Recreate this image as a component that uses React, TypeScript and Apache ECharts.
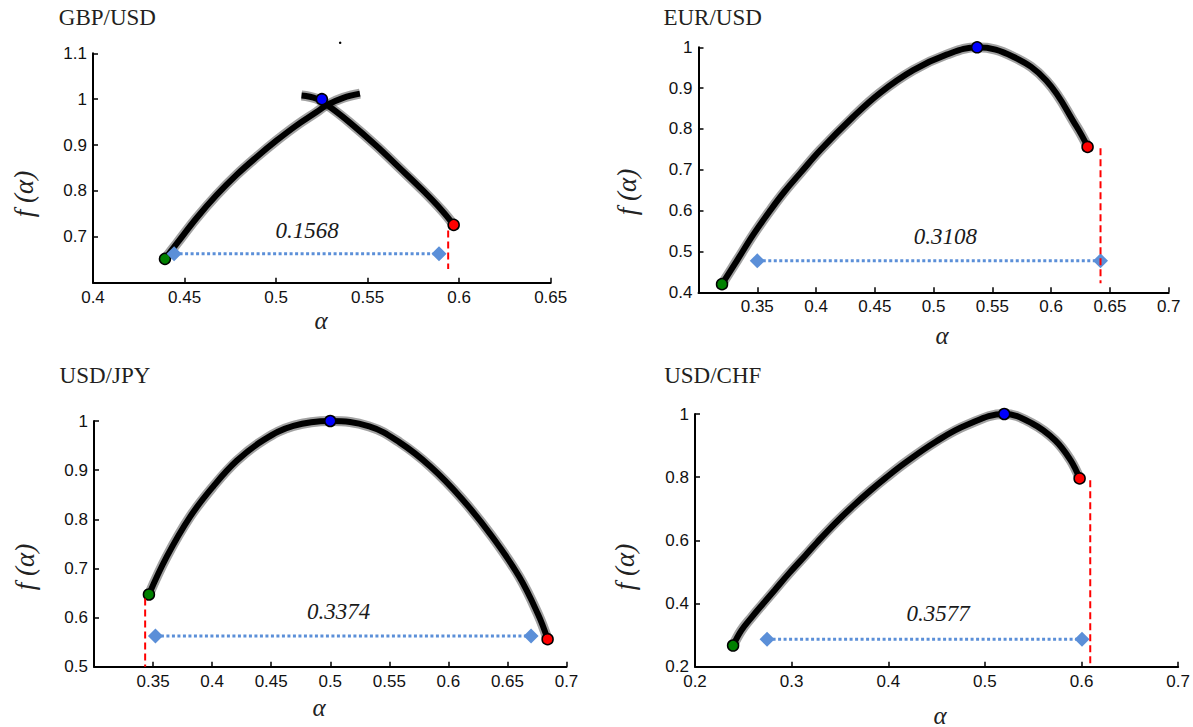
import React, { useEffect, useRef } from "react";
import * as echarts from "echarts";

type Pt = [number, number];

const panelTitles = ["GBP/USD", "EUR/USD", "USD/JPY", "USD/CHF"];
const widthTexts = ["0.1568", "0.3108", "0.3374", "0.3577"];

// x axis: [min, max, step]; y axis: [min, max, step]
const xTickRanges: number[][] = [
  [0.4, 0.65, 0.05],
  [0.3, 0.7, 0.05],
  [0.3, 0.7, 0.05],
  [0.2, 0.7, 0.1],
];
const yTickRanges: number[][] = [
  [0.6, 1.1, 0.1],
  [0.4, 1.0, 0.1],
  [0.5, 1.0, 0.1],
  [0.2, 1.0, 0.2],
];
const showXMinLabel = [true, false, false, true];
const showYMinLabel = [false, true, true, true];

// ---- GBP/USD ----
const gbpRising: Pt[] = [
  [0.4393, 0.652], [0.4457, 0.685], [0.4566, 0.741], [0.4675, 0.791],
  [0.4784, 0.835], [0.4894, 0.874], [0.5003, 0.91], [0.5112, 0.943],
  [0.5221, 0.972], [0.5276, 0.987], [0.5367, 1.003], [0.5458, 1.012],
];
const gbpFalling: Pt[] = [
  [0.5139, 1.008], [0.5221, 1.001], [0.5294, 0.983], [0.5403, 0.949],
  [0.5549, 0.898], [0.5667, 0.853], [0.5802, 0.801], [0.5907, 0.757],
  [0.597, 0.726],
];
const gbpGreen: Pt[] = [[0.4393, 0.652]];
const gbpRed: Pt[] = [[0.597, 0.726]];
const gbpBlue: Pt[] = [[0.525, 1.0]];
const gbpSpan: Pt[] = [[0.4443, 0.663], [0.589, 0.663]];
const gbpDash: Pt[] = [[0.594, 0.714], [0.594, 0.63]];
const gbpLabelAt: Pt[] = [[0.517, 0.714]];
const gbpStray: Pt[] = [[0.535, 1.123]];

// ---- EUR/USD ----
const eurCurve: Pt[] = [
  [0.32, 0.42], [0.333, 0.479], [0.347, 0.543], [0.3614, 0.602],
  [0.3727, 0.645], [0.3869, 0.693], [0.4039, 0.749], [0.431, 0.828],
  [0.4543, 0.888], [0.4827, 0.944], [0.511, 0.982], [0.537, 1.0],
  [0.5677, 0.977], [0.596, 0.918], [0.6216, 0.806], [0.631, 0.757],
];
const eurGreen: Pt[] = [[0.32, 0.42]];
const eurRed: Pt[] = [[0.631, 0.756]];
const eurBlue: Pt[] = [[0.537, 1.0]];
const eurSpan: Pt[] = [[0.35, 0.477], [0.642, 0.477]];
const eurDash: Pt[] = [[0.642, 0.753], [0.642, 0.422]];
const eurLabelAt: Pt[] = [[0.51, 0.537]];

// ---- USD/JPY ----
const jpyCurve: Pt[] = [
  [0.3465, 0.647], [0.3616, 0.724], [0.3813, 0.805], [0.401, 0.867],
  [0.4208, 0.919], [0.4434, 0.961], [0.4688, 0.99], [0.5, 1.0],
  [0.533, 0.989], [0.559, 0.956], [0.585, 0.907], [0.611, 0.843],
  [0.637, 0.765], [0.66, 0.683], [0.676, 0.606], [0.684, 0.556],
];
const jpyGreen: Pt[] = [[0.3465, 0.647]];
const jpyRed: Pt[] = [[0.684, 0.556]];
const jpyBlue: Pt[] = [[0.5, 1.0]];
const jpySpan: Pt[] = [[0.352, 0.5625], [0.67, 0.5625]];
const jpyDash: Pt[] = [[0.3433, 0.639], [0.3433, 0.5]];
const jpyLabelAt: Pt[] = [[0.507, 0.612]];

// ---- USD/CHF ----
const chfCurve: Pt[] = [
  [0.2394, 0.267], [0.248, 0.315], [0.2588, 0.357], [0.2706, 0.4],
  [0.2826, 0.443], [0.2977, 0.497], [0.3144, 0.553], [0.3267, 0.595],
  [0.346, 0.657], [0.364, 0.71], [0.382, 0.759], [0.397, 0.797],
  [0.4176, 0.846], [0.4495, 0.913], [0.481, 0.965], [0.52, 1.0],
  [0.549, 0.97], [0.5726, 0.917], [0.5886, 0.854], [0.598, 0.796],
];
const chfGreen: Pt[] = [[0.2394, 0.267]];
const chfRed: Pt[] = [[0.598, 0.796]];
const chfBlue: Pt[] = [[0.52, 1.0]];
const chfSpan: Pt[] = [[0.2746, 0.287], [0.6005, 0.287]];
const chfDash: Pt[] = [[0.609, 0.79], [0.609, 0.2]];
const chfLabelAt: Pt[] = [[0.4515, 0.369]];

const SERIF = '"Liberation Serif", "Times New Roman", serif';
const SANS = '"Liberation Sans", Arial, sans-serif';

const panels = [
  { curves: [gbpRising, gbpFalling], green: gbpGreen, red: gbpRed, blue: gbpBlue, span: gbpSpan, dash: gbpDash, labelAt: gbpLabelAt },
  { curves: [eurCurve], green: eurGreen, red: eurRed, blue: eurBlue, span: eurSpan, dash: eurDash, labelAt: eurLabelAt },
  { curves: [jpyCurve], green: jpyGreen, red: jpyRed, blue: jpyBlue, span: jpySpan, dash: jpyDash, labelAt: jpyLabelAt },
  { curves: [chfCurve], green: chfGreen, red: chfRed, blue: chfBlue, span: chfSpan, dash: chfDash, labelAt: chfLabelAt },
];

// layout (pixels)
const gridBoxes = [
  { left: 93, top: 53.3, width: 457.7, height: 229.4 },
  { left: 698.5, top: 47.3, width: 470.2, height: 245 },
  { left: 94, top: 421, width: 472.5, height: 245.7 },
  { left: 695, top: 414, width: 486.3, height: 252.7 },
];
const titlePos = [[58.8, 17], [663.4, 17], [59.6, 375], [664.2, 375.5]];
const yNamePos = [[24, 194], [627, 192], [25, 567], [625, 567]];
const xNamePos = [[321, 320], [942, 335], [319, 707], [940, 715]];

export default function App() {
  const ref = useRef<HTMLDivElement>(null);
  useEffect(() => {
    if (!ref.current) return;
    const chart = echarts.init(ref.current, undefined, { renderer: "svg" });

    const xAxis = xTickRanges.map((r, i) => ({
      type: "value",
      gridIndex: i,
      min: r[0],
      max: r[1],
      interval: r[2],
      axisLine: { show: true, onZero: false, lineStyle: { color: "#000", width: 2 } },
      axisTick: { show: true, inside: true, length: 5, lineStyle: { color: "#000", width: 1.5 } },
      axisLabel: {
        show: true, color: "#111", fontFamily: SANS, fontSize: 17, margin: 6,
        showMinLabel: showXMinLabel[i], showMaxLabel: true,
      },
      splitLine: { show: false },
    }));
    const yAxis = yTickRanges.map((r, i) => ({
      type: "value",
      gridIndex: i,
      min: r[0],
      max: r[1],
      interval: r[2],
      axisLine: { show: true, onZero: false, lineStyle: { color: "#000", width: 2 } },
      axisTick: { show: true, inside: true, length: 5, lineStyle: { color: "#000", width: 1.5 } },
      axisLabel: {
        show: true, color: "#111", fontFamily: SANS, fontSize: 17, margin: 6,
        showMinLabel: showYMinLabel[i], showMaxLabel: true,
      },
      splitLine: { show: false },
    }));

    const series: any[] = [];
    panels.forEach((p, i) => {
      p.curves.forEach((c) => {
        series.push({
          type: "line", xAxisIndex: i, yAxisIndex: i, data: c, smooth: 0.4,
          symbol: "none", lineStyle: { color: "rgba(70,70,70,0.5)", width: 10 }, z: 2,
        });
        series.push({
          type: "line", xAxisIndex: i, yAxisIndex: i, data: c, smooth: 0.4,
          symbol: "none", lineStyle: { color: "#000", width: 6 }, z: 3,
        });
      });
      const dot = (data: Pt[], color: string) => ({
        type: "scatter", xAxisIndex: i, yAxisIndex: i, data, symbol: "circle", symbolSize: 11,
        itemStyle: { color, borderColor: "#000", borderWidth: 1.5, opacity: 1 }, z: 4,
      });
      series.push(dot(p.green, "#008000"));
      series.push(dot(p.red, "#ff0000"));
      series.push(dot(p.blue, "#0000ff"));
      series.push({
        type: "line", xAxisIndex: i, yAxisIndex: i, data: p.span,
        symbol: "diamond", symbolSize: 15, showSymbol: true,
        itemStyle: { color: "#5b8fd8" },
        lineStyle: { color: "#5b8fd8", width: 3, type: [3, 2.5] }, z: 5,
      });
      series.push({
        type: "line", xAxisIndex: i, yAxisIndex: i, data: p.dash, symbol: "none",
        lineStyle: { color: "#ff0000", width: 2, type: [7, 4] }, z: 6,
      });
      series.push({
        type: "scatter", xAxisIndex: i, yAxisIndex: i, data: p.labelAt, symbolSize: 1,
        itemStyle: { color: "#fff", opacity: 1 }, z: 7,
        label: {
          show: true, position: "inside", formatter: widthTexts[i], opacity: 1,
          fontFamily: SERIF, fontStyle: "italic", fontSize: 23, color: "#1a1a1a",
        },
      });
    });
    series.push({
      type: "scatter", xAxisIndex: 0, yAxisIndex: 0, data: gbpStray, symbolSize: 2.5,
      clip: false, itemStyle: { color: "#000", opacity: 1 }, z: 7,
    });

    const graphic: any[] = [];
    panelTitles.forEach((t, i) => {
      graphic.push({
        type: "text", x: titlePos[i][0], y: titlePos[i][1],
        style: { text: t, font: `23px ${SERIF}`, fill: "#231f20", align: "left", verticalAlign: "middle" },
      });
      graphic.push({
        type: "text", x: yNamePos[i][0], y: yNamePos[i][1], rotation: Math.PI / 2,
        style: { text: "f (α)", font: `italic 27px ${SERIF}`, fill: "#222", align: "center", verticalAlign: "middle" },
      });
      graphic.push({
        type: "text", x: xNamePos[i][0], y: xNamePos[i][1],
        style: { text: "α", font: `italic 25px ${SERIF}`, fill: "#222", align: "center", verticalAlign: "middle" },
      });
    });

    chart.setOption({
      animation: false,
      backgroundColor: "#fff",
      grid: gridBoxes.map((g) => ({ ...g, containLabel: false })),
      xAxis,
      yAxis,
      series,
      graphic,
    });
    return () => chart.dispose();
  }, []);
  return (
    <div
      ref={ref}
      style={{ position: "fixed", left: 0, top: 0, width: 1193, height: 727, background: "#fff" }}
    />
  );
}
